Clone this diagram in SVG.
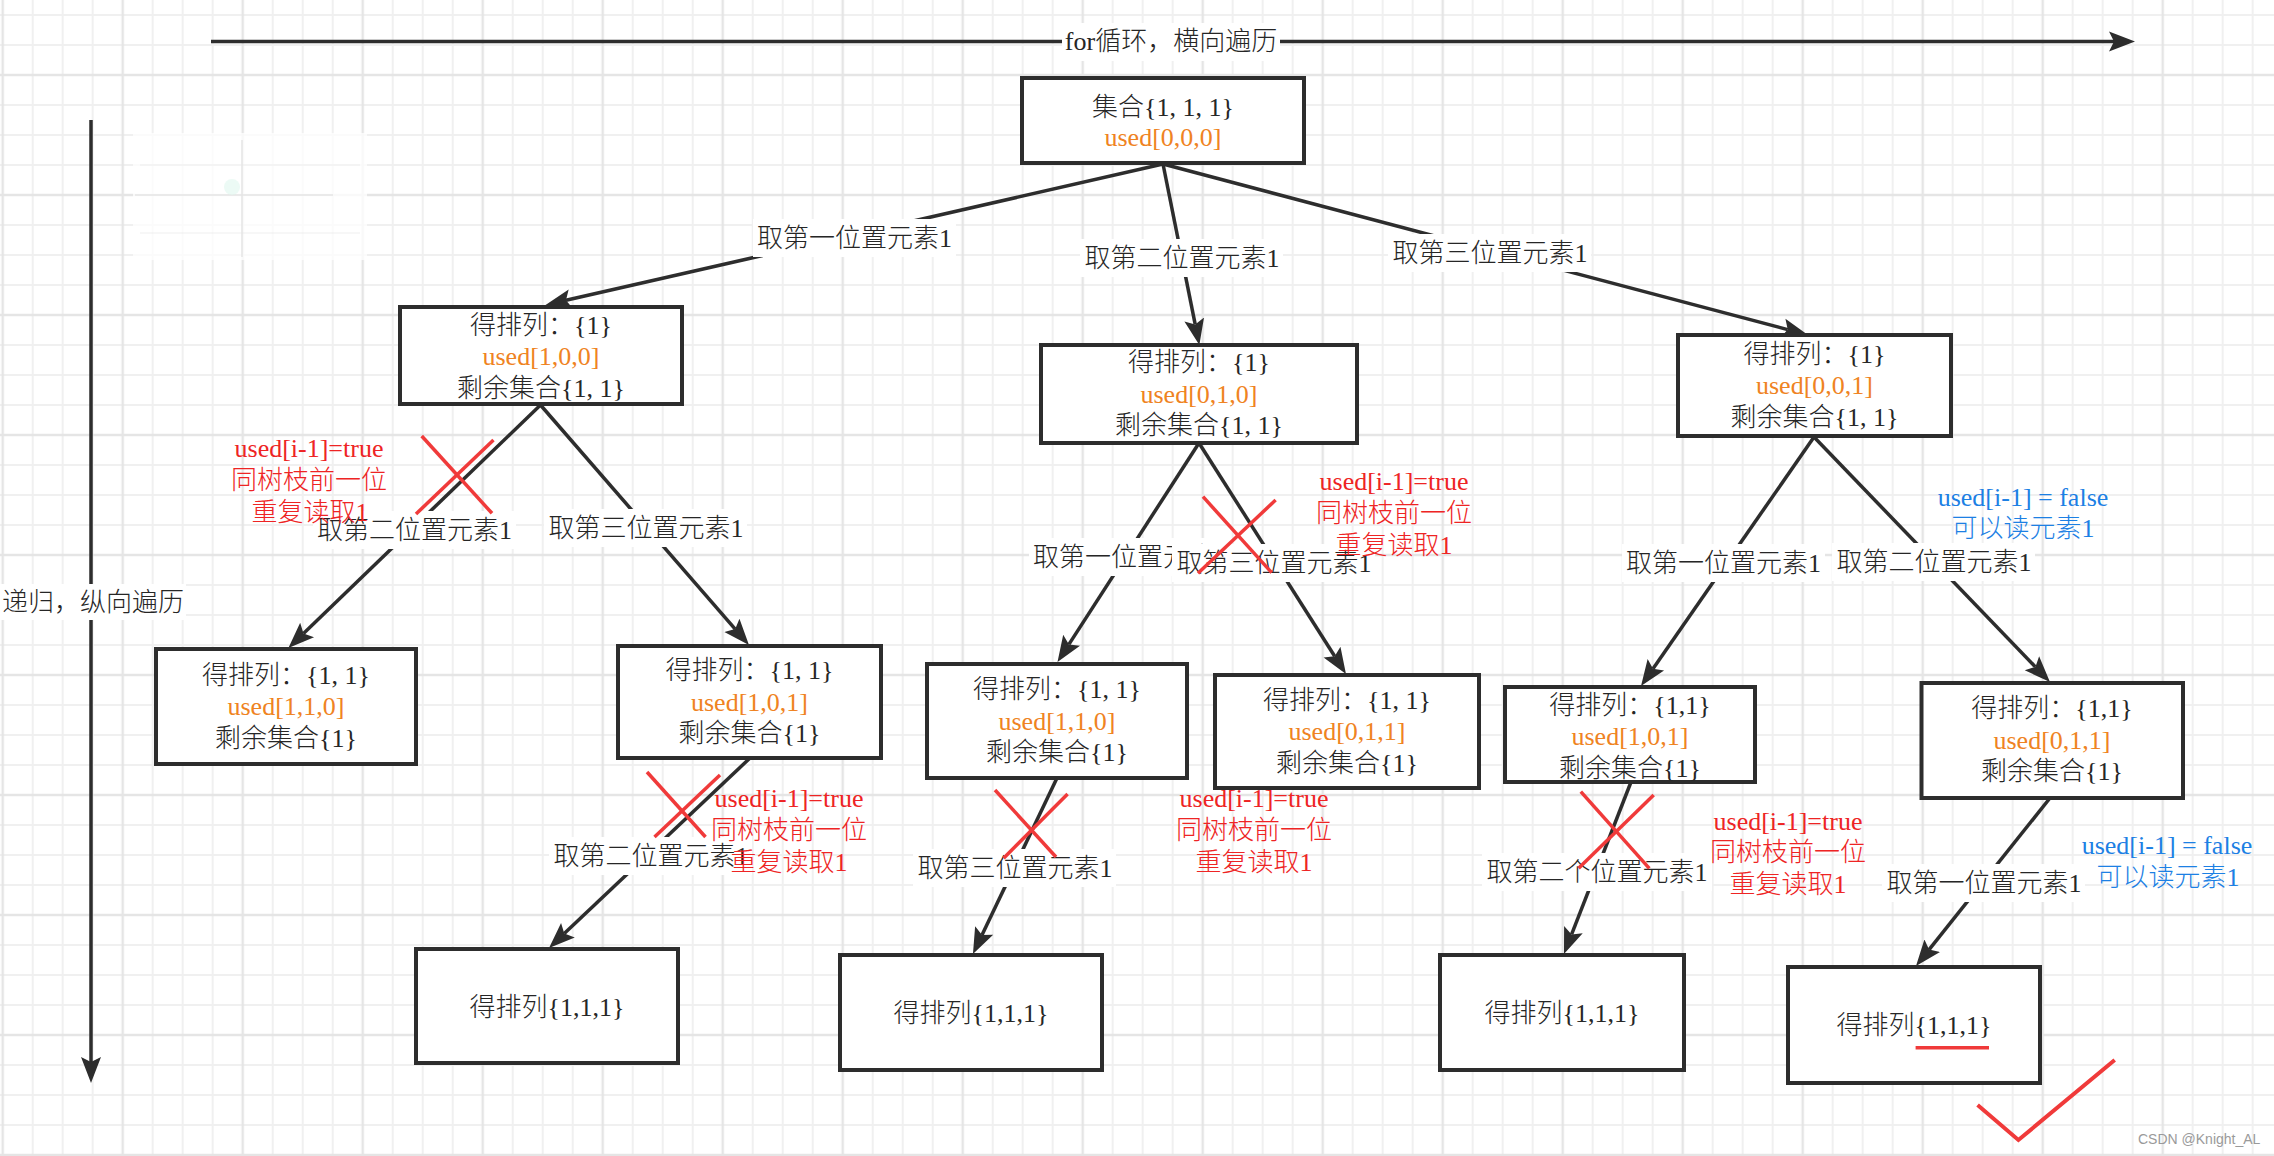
<svg xmlns="http://www.w3.org/2000/svg" width="2274" height="1156" viewBox="0 0 2274 1156">
<style>
.t{font-family:"Liberation Serif","Noto Sans CJK SC",serif;font-size:26px;font-weight:300;fill:#262626;text-anchor:middle;dominant-baseline:central}
.o{fill:#ef8322}
.r{fill:#ee2424}
.bl{fill:#1c80e4}
.box{fill:#fff;stroke:#2d2d2d;stroke-width:4}
.e{stroke:#2d2d2d;stroke-width:3.5;fill:none;marker-end:url(#arr)}
.lb{fill:#fff}
.x{stroke:#f03a3a;stroke-width:3.5;fill:none}
.wm{font-family:"Liberation Sans",Arial,sans-serif;font-size:14px;fill:#9a9a9a}
</style>
<defs>
<pattern id="grid" patternUnits="userSpaceOnUse" x="-12.3" y="60" width="120" height="120">
<g stroke="#f0f0f0" stroke-width="2">
<line x1="45" y1="0" x2="45" y2="120"/><line x1="75" y1="0" x2="75" y2="120"/><line x1="105" y1="0" x2="105" y2="120"/>
<line x1="0" y1="45" x2="120" y2="45"/><line x1="0" y1="75" x2="120" y2="75"/><line x1="0" y1="105" x2="120" y2="105"/>
</g>
<g stroke="#e5e5e5" stroke-width="2.5">
<line x1="15" y1="0" x2="15" y2="120"/><line x1="0" y1="15" x2="120" y2="15"/>
</g>
</pattern>
<marker id="arr" markerUnits="userSpaceOnUse" markerWidth="30" markerHeight="24" viewBox="0 -12 30 24" refX="5" refY="0" orient="auto">
<path d="M26,0 L0,-10 L5,0 L0,10 Z" fill="#2d2d2d"/>
</marker>
</defs>
<rect x="0" y="0" width="2274" height="1156" fill="#fff"/>
<rect x="0" y="0" width="2274" height="1156" fill="url(#grid)"/>

<g id="faded-patch">
<rect x="133" y="133" width="234" height="127" fill="#fff" opacity="0.75"/>
<g stroke="#d8d8d8" stroke-width="1.5" opacity="0.6">
<line x1="135" y1="195" x2="333" y2="195"/>
<line x1="242" y1="140" x2="242" y2="257"/>
<line x1="140" y1="165" x2="360" y2="165" opacity="0.4"/>
<line x1="140" y1="233" x2="360" y2="233" opacity="0.4"/>
</g>
<circle cx="232" cy="187" r="8" fill="#e0f7ee" opacity="0.6"/>
</g>

<g id="axes">
<line x1="211" y1="41.5" x2="2114" y2="41.5" class="e"/>
<rect x="1062" y="23" width="218" height="38" class="lb"/>
<text x="1171" y="41.5" class="t">for循环，横向遍历</text>
<line x1="91" y1="120" x2="91" y2="1062" class="e"/>
<rect x="0" y="584" width="186" height="36" class="lb"/>
<text x="93" y="602" class="t">递归，纵向遍历</text>
</g>

<g id="connectors">
<line x1="1163" y1="164" x2="566" y2="300.3" class="e"/>
<line x1="1163" y1="164" x2="1195.2" y2="324.4" class="e"/>
<line x1="1163" y1="164" x2="1787.7" y2="329.6" class="e"/>
<line x1="540.5" y1="405" x2="303.5" y2="633.4" class="e"/>
<line x1="540.5" y1="405" x2="735.2" y2="629.1" class="e"/>
<line x1="1199" y1="443" x2="1068.9" y2="644.4" class="e"/>
<line x1="1199" y1="443" x2="1334.7" y2="656.3" class="e"/>
<line x1="1814" y1="437" x2="1653" y2="668.8" class="e"/>
<line x1="1814" y1="437" x2="2035.4" y2="666.9" class="e"/>
<line x1="750" y1="758" x2="564.3" y2="933.6" class="e"/>
<line x1="1057" y1="778" x2="982" y2="935" class="e"/>
<line x1="1631" y1="782" x2="1571.6" y2="934.4" class="e"/>
<line x1="2050" y1="798" x2="1929.1" y2="949.6" class="e"/>
</g>

<g id="node-root"><rect x="1022" y="78" width="282" height="85" class="box"/>
<text x="1163" y="107" class="t">集合{1, 1, 1}</text><text x="1163" y="137" class="t o">used[0,0,0]</text></g>

<g id="node-a"><rect x="400" y="307" width="282" height="97" class="box"/>
<text x="541" y="325" class="t">得排列：{1}</text><text x="541" y="356.5" class="t o">used[1,0,0]</text><text x="541" y="388" class="t">剩余集合{1, 1}</text></g>

<g id="node-b"><rect x="1041" y="345" width="316" height="98" class="box"/>
<text x="1199" y="362.5" class="t">得排列：{1}</text><text x="1199" y="394" class="t o">used[0,1,0]</text><text x="1199" y="425.5" class="t">剩余集合{1, 1}</text></g>

<g id="node-c"><rect x="1678" y="335" width="273" height="101" class="box"/>
<text x="1814.5" y="354" class="t">得排列：{1}</text><text x="1814.5" y="385.5" class="t o">used[0,0,1]</text><text x="1814.5" y="417" class="t">剩余集合{1, 1}</text></g>

<g id="node-d"><rect x="156" y="649" width="260" height="115" class="box"/>
<text x="286" y="675" class="t">得排列：{1, 1}</text><text x="286" y="706.5" class="t o">used[1,1,0]</text><text x="286" y="738" class="t">剩余集合{1}</text></g>

<g id="node-e"><rect x="618" y="646" width="263" height="112" class="box"/>
<text x="749.5" y="670.5" class="t">得排列：{1, 1}</text><text x="749.5" y="702" class="t o">used[1,0,1]</text><text x="749.5" y="733.5" class="t">剩余集合{1}</text></g>

<g id="node-f"><rect x="927" y="664" width="260" height="114" class="box"/>
<text x="1057" y="689.5" class="t">得排列：{1, 1}</text><text x="1057" y="721" class="t o">used[1,1,0]</text><text x="1057" y="752.5" class="t">剩余集合{1}</text></g>

<g id="node-g"><rect x="1215" y="675" width="264" height="113" class="box"/>
<text x="1347" y="700" class="t">得排列：{1, 1}</text><text x="1347" y="731.5" class="t o">used[0,1,1]</text><text x="1347" y="763" class="t">剩余集合{1}</text></g>

<g id="node-h"><rect x="1505" y="687" width="250" height="95" class="box"/>
<text x="1630" y="705" class="t">得排列：{1,1}</text><text x="1630" y="736.5" class="t o">used[1,0,1]</text><text x="1630" y="768" class="t">剩余集合{1}</text></g>

<g id="node-i"><rect x="1921.5" y="683" width="261.5" height="115" class="box"/>
<text x="2052" y="708.5" class="t">得排列：{1,1}</text><text x="2052" y="740" class="t o">used[0,1,1]</text><text x="2052" y="771.5" class="t">剩余集合{1}</text></g>

<g id="node-j"><rect x="416" y="949" width="262" height="114" class="box"/><text x="547" y="1007" class="t">得排列{1,1,1}</text></g>
<g id="node-k"><rect x="840" y="955" width="262" height="115" class="box"/><text x="971" y="1013" class="t">得排列{1,1,1}</text></g>
<g id="node-l"><rect x="1440" y="955" width="244" height="115" class="box"/><text x="1562" y="1013" class="t">得排列{1,1,1}</text></g>
<g id="node-m"><rect x="1788" y="967" width="252" height="116" class="box"/><text x="1914" y="1025" class="t">得排列{1,1,1}</text></g>

<g id="edge-labels">
<rect x="753" y="219" width="203" height="38" class="lb"/><text x="854.5" y="238" class="t">取第一位置元素1</text>
<rect x="1080" y="239" width="203" height="38" class="lb"/><text x="1182" y="258" class="t">取第二位置元素1</text>
<rect x="1388" y="234" width="203" height="38" class="lb"/><text x="1490" y="253" class="t">取第三位置元素1</text>
<rect x="313" y="511" width="203" height="38" class="lb"/><text x="414.5" y="530" class="t">取第二位置元素1</text>
<rect x="544" y="509" width="203" height="38" class="lb"/><text x="646" y="528" class="t">取第三位置元素1</text>
<rect x="1029" y="538" width="203" height="38" class="lb"/><text x="1130.5" y="557" class="t">取第一位置元素1</text>
<rect x="1172" y="544" width="203" height="38" class="lb"/><text x="1274" y="563" class="t">取第三位置元素1</text>
<rect x="1622" y="544" width="203" height="38" class="lb"/><text x="1723.5" y="563" class="t">取第一位置元素1</text>
<rect x="1832" y="543" width="203" height="38" class="lb"/><text x="1934" y="562" class="t">取第二位置元素1</text>
<rect x="549" y="837" width="203" height="38" class="lb"/><text x="651" y="856" class="t">取第二位置元素1</text>
<rect x="913" y="849" width="203" height="38" class="lb"/><text x="1015" y="868" class="t">取第三位置元素1</text>
<rect x="1482" y="853" width="230" height="38" class="lb"/><text x="1597" y="872" class="t">取第二个位置元素1</text>
<rect x="1882" y="864" width="203" height="38" class="lb"/><text x="1984" y="883" class="t">取第一位置元素1</text>
</g>

<g id="cross-marks">
<line x1="421.7" y1="436" x2="492" y2="513.3" class="x"/><line x1="493.5" y1="440" x2="416" y2="514" class="x"/>
<line x1="1203" y1="496.7" x2="1271.7" y2="572.7" class="x"/><line x1="1275.6" y1="500" x2="1198" y2="573.3" class="x"/>
<line x1="647" y1="772" x2="705.5" y2="837" class="x"/><line x1="720" y1="775" x2="654.5" y2="837" class="x"/>
<line x1="995" y1="790" x2="1056" y2="857" class="x"/><line x1="1067.6" y1="794" x2="1003.6" y2="858.3" class="x"/>
<line x1="1580.8" y1="791.7" x2="1649.3" y2="868.3" class="x"/><line x1="1653.7" y1="795" x2="1578.6" y2="868.3" class="x"/>
</g>

<g id="notes">
<text x="309" y="448" class="t r">used[i-1]=true</text><text x="309" y="480" class="t r">同树枝前一位</text><text x="310" y="512" class="t r">重复读取1</text>
<text x="1394" y="481" class="t r">used[i-1]=true</text><text x="1394" y="513" class="t r">同树枝前一位</text><text x="1394" y="545" class="t r">重复读取1</text>
<text x="789" y="798" class="t r">used[i-1]=true</text><text x="789" y="830" class="t r">同树枝前一位</text><text x="789" y="862" class="t r">重复读取1</text>
<text x="1254" y="798" class="t r">used[i-1]=true</text><text x="1254" y="830" class="t r">同树枝前一位</text><text x="1254" y="862" class="t r">重复读取1</text>
<text x="1788" y="821" class="t r">used[i-1]=true</text><text x="1788" y="852" class="t r">同树枝前一位</text><text x="1788" y="884" class="t r">重复读取1</text>
<text x="2023" y="497" class="t bl">used[i-1] = false</text><text x="2023" y="528" class="t bl">可以读元素1</text>
<text x="2167" y="845" class="t bl">used[i-1] = false</text><text x="2168" y="877" class="t bl">可以读元素1</text>
</g>

<g id="check">
<line x1="1915.6" y1="1047.7" x2="1989" y2="1047.7" stroke="#f03a3a" stroke-width="3.5"/>
<polyline points="1977.6,1105 2018.4,1140 2114.7,1060" fill="none" stroke="#f03a3a" stroke-width="4"/>
</g>

<text x="2138" y="1144" class="wm">CSDN @Knight_AL</text>
</svg>
